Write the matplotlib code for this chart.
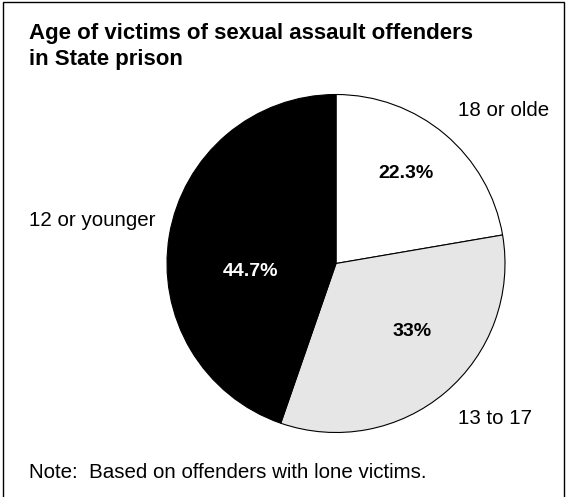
import matplotlib.pyplot as plt
from matplotlib.patches import Rectangle

plt.rcParams['font.family'] = ['Liberation Sans', 'DejaVu Sans']

#---------------------------------
# Data
#---------------------------------

TITLE_LINES = ["Age of victims of sexual assault offenders", "in State prison"]
NOTE = "Note:  Based on offenders with lone victims."
CATEGORIES = ["18 or olde", "13 to 17", "12 or younger"]
SHARES = [22.3, 33.0, 44.7]
PCT_LABELS = ["22.3%", "33%", "44.7%"]
COLORS = ["white", "#e6e6e6", "black"]
PCT_COLORS = ["black", "black", "white"]

#---------------------------------
# Figure
#---------------------------------

W, H = 566, 497
fig = plt.figure(figsize=(W / 100, H / 100), dpi=100)

# frame around the whole graphic (bottom edge falls outside the picture)
fig.patches.append(Rectangle((3 / W, -0.05), 561 / W, 1.05 - 1.5 / H,
                             transform=fig.transFigure, fill=False,
                             edgecolor="black", linewidth=1.0))

# pie centre (336, 263) px, radius 169 px
cx, cy, r = 336, 263.5, 169
ax = fig.add_axes([(cx - r) / W, (H - cy - r) / H, 2 * r / W, 2 * r / H])

wedges, texts = ax.pie(SHARES, colors=COLORS, startangle=90, counterclock=False,
                       wedgeprops=dict(edgecolor="black", linewidth=0.8))
ax.set_xlim(-1, 1)
ax.set_ylim(-1, 1)
ax.set_aspect("auto")
ax.axis("off")

# percentage labels inside the wedges
pct_pos = [(0.414, 0.530), (0.450, -0.405), (-0.503, -0.050)]
for lab, (x, y), col in zip(PCT_LABELS, pct_pos, PCT_COLORS):
    ax.text(x, y, lab, ha="center", va="center", fontsize=14,
            fontweight="bold", color=col)

# category labels outside
cat_pos = [(458, 110), (458, 419), (29, 221)]
for lab, (x, y) in zip(CATEGORIES, cat_pos):
    fig.text(x / W, 1 - y / H, lab, ha="left", va="center", fontsize=14.8)

for line, base in zip(TITLE_LINES, [39, 65]):
    fig.text(29 / W, 1 - base / H, line, ha="left", va="baseline",
             fontsize=16, fontweight="bold")
fig.text(29 / W, 1 - 478 / H, NOTE, ha="left", va="baseline", fontsize=14.8)

fig.savefig("out.png", dpi=100)
